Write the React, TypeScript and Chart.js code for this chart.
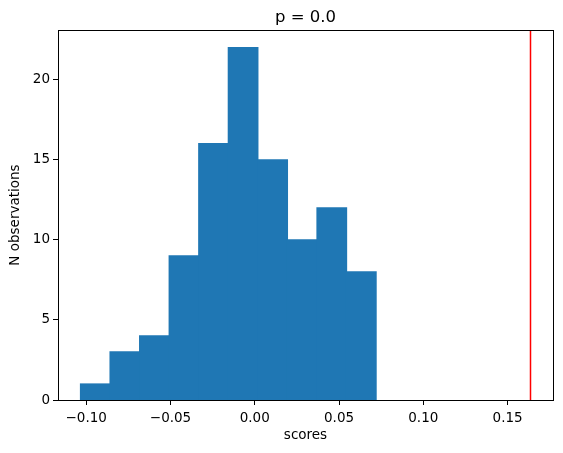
import React, { useEffect, useRef } from "react";
import { Chart, registerables } from "chart.js";

Chart.register(...registerables);

const binEdgeStart = -0.1034;
const binWidth = 0.01754;
const binCounts = [1, 3, 4, 9, 16, 22, 15, 10, 12, 8];
const observedScore = 0.1636;
const xTicks = [-0.1, -0.05, 0.0, 0.05, 0.1, 0.15];
const yTicks = [0, 5, 10, 15, 20];
const titleText = "p = 0.0";
const xLabel = "scores";
const yLabel = "N observations";

const FONT = "'DejaVu Sans', sans-serif";

export default function App() {
  const ref = useRef<HTMLCanvasElement>(null);
  useEffect(() => {
    const barData = binCounts.map((c, i) => ({ x: binEdgeStart + binWidth * (i + 0.5), y: c }));
    const yMax = Math.max(...binCounts) * 1.05;
    const dataMax = observedScore;
    const dataMin = binEdgeStart;
    const span = dataMax - dataMin;
    const xMin = dataMin - span * 0.05;
    const xMax = dataMax + span * 0.05;

    const framePlugin = {
      id: "frame",
      afterDraw(chart: any) {
        const { ctx, chartArea } = chart;
        ctx.save();
        ctx.strokeStyle = "#000";
        ctx.lineWidth = 1;
        ctx.strokeRect(
          Math.round(chartArea.left) + 0.5,
          Math.round(chartArea.top) + 0.5,
          Math.round(chartArea.right - chartArea.left),
          Math.round(chartArea.bottom - chartArea.top)
        );
        ctx.fillStyle = "#000";
        ctx.font = `16.5px ${FONT}`;
        ctx.textAlign = "center";
        ctx.textBaseline = "alphabetic";
        ctx.fillText(titleText, (chartArea.left + chartArea.right) / 2, 22);
        ctx.restore();
      },
    };

    const chart = new Chart(ref.current!, {
      type: "bar",
      data: {
        datasets: [
          {
            type: "bar",
            data: barData,
            backgroundColor: "#1f77b4",
            borderWidth: 0,
            barPercentage: 1,
            categoryPercentage: 1,
            inflateAmount: 0.6,
            order: 2,
          } as any,
          {
            type: "line",
            data: [
              { x: observedScore, y: 0 },
              { x: observedScore, y: yMax },
            ],
            borderColor: "#ff0000",
            borderWidth: 1.5,
            pointRadius: 0,
            fill: false,
            order: 1,
          } as any,
        ],
      },
      plugins: [framePlugin],
      options: {
        animation: false,
        responsive: false,
        maintainAspectRatio: false,
        layout: { padding: { top: 30, right: 10, left: 0, bottom: 0 } },
        plugins: {
          legend: { display: false },
          tooltip: { enabled: false },
          title: { display: false },
        },
        scales: {
          x: {
            type: "linear",
            min: xMin,
            max: xMax,
            offset: false,
            afterBuildTicks: (s: any) => {
              s.ticks = xTicks.map((v) => ({ value: v }));
            },
            afterFit: (s: any) => {
              s.height = 53;
            },
            border: { display: false },
            grid: {
              offset: false,
              drawOnChartArea: false,
              drawTicks: true,
              tickLength: 5,
              color: "#000",
            },
            ticks: {
              color: "#000",
              font: { family: FONT, size: 13.5 },
              padding: 5,
              maxRotation: 0,
              callback: (v: any) => {
                const n = Number(v);
                const s = Math.abs(n).toFixed(2);
                return n < 0 ? "\u2212" + s : s;
              },
            },
            title: {
              display: true,
              text: xLabel,
              color: "#000",
              font: { family: FONT, size: 13.5 },
              padding: { top: 2, bottom: 9 },
            },
          },
          y: {
            type: "linear",
            min: 0,
            max: yMax,
            afterBuildTicks: (s: any) => {
              s.ticks = yTicks.map((v) => ({ value: v }));
            },
            afterFit: (s: any) => {
              s.width = 58;
            },
            border: { display: false },
            grid: {
              offset: false,
              drawOnChartArea: false,
              drawTicks: true,
              tickLength: 5,
              color: "#000",
            },
            ticks: {
              color: "#000",
              font: { family: FONT, size: 13.5 },
              padding: 3,
            },
            title: {
              display: true,
              text: yLabel,
              color: "#000",
              font: { family: FONT, size: 13.5 },
              padding: { top: 7, bottom: 4 },
            },
          },
        },
      } as any,
    });
    return () => chart.destroy();
  }, []);

  return (
    <div style={{ position: "fixed", left: 0, top: 0, width: 563, height: 453, background: "#fff" }}>
      <canvas ref={ref} width={563} height={453} style={{ width: 563, height: 453 }} />
    </div>
  );
}
